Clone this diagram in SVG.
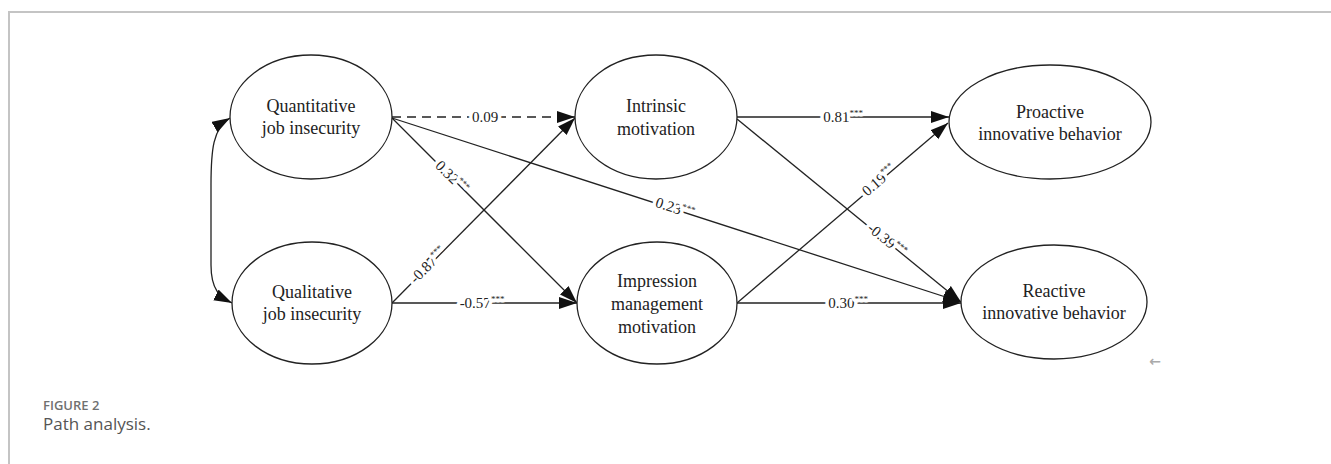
<svg xmlns="http://www.w3.org/2000/svg" width="1331" height="464" viewBox="0 0 1331 464">
<style>
.node ellipse{fill:#fff;stroke:#222;stroke-width:1.3}
.nl{font-family:"Liberation Serif","Times New Roman",serif;font-size:18px;fill:#222;text-anchor:middle}
.edge{stroke:#222;stroke-width:1.3;fill:none}
.el{font-family:"Liberation Serif","Times New Roman",serif;font-size:15px;fill:#222;text-anchor:middle;stroke:#fff;stroke-width:7px;paint-order:stroke;stroke-linejoin:round}
.sup{font-size:9px}
.cap1{font-family:"Open Sans","Noto Sans",sans-serif;font-size:13px;font-weight:600;fill:#707070}
.cap2{font-family:"Open Sans","Noto Sans",sans-serif;font-size:17px;fill:#555}
</style>
<defs>
<marker id="ah" markerUnits="userSpaceOnUse" markerWidth="20" markerHeight="14" refX="18" refY="6" orient="auto-start-reverse">
<path d="M0,0 L18,6 L0,12 z" fill="#111"/>
</marker>
</defs>
<rect width="1331" height="464" fill="#fff"/>
<path d="M9,464 L9,12 L1331,12" fill="none" stroke="#c4c4c4" stroke-width="2"/>

<g id="connectors">
<path class="edge" d="M230,118 C213,128 211,150 211,185 L211,265 C211,290 220,297 232,303" marker-start="url(#ah)" marker-end="url(#ah)"/>
<line class="edge" x1="392" y1="117" x2="575" y2="117" stroke-dasharray="9,6" marker-end="url(#ah)"/>
<line class="edge" x1="392" y1="118" x2="577" y2="303" marker-end="url(#ah)"/>
<line class="edge" x1="392" y1="118" x2="961" y2="302" marker-end="url(#ah)"/>
<line class="edge" x1="392" y1="303" x2="575" y2="118" marker-end="url(#ah)"/>
<line class="edge" x1="392" y1="303" x2="577" y2="303" marker-end="url(#ah)"/>
<line class="edge" x1="737" y1="117" x2="949" y2="117" marker-end="url(#ah)"/>
<line class="edge" x1="737" y1="119" x2="961" y2="302" marker-end="url(#ah)"/>
<line class="edge" x1="737" y1="303" x2="948" y2="123" marker-end="url(#ah)"/>
<line class="edge" x1="737" y1="303" x2="961" y2="303" marker-end="url(#ah)"/>
<text class="el" x="485" y="122">0.09</text>
<text class="el" transform="translate(452,177) rotate(45)" y="5">0.32<tspan class="sup" dy="-6">***</tspan></text>
<text class="el" transform="translate(675,208) rotate(18)" y="5">0.23<tspan class="sup" dy="-6">***</tspan></text>
<text class="el" transform="translate(428,265) rotate(-45)" y="5">-0.87<tspan class="sup" dy="-6">***</tspan></text>
<text class="el" x="482" y="308">-0.57<tspan class="sup" dy="-6">***</tspan></text>
<text class="el" x="843" y="122">0.81<tspan class="sup" dy="-6">***</tspan></text>
<text class="el" transform="translate(879,180) rotate(-40.6)" y="5">0.19<tspan class="sup" dy="-6">***</tspan></text>
<text class="el" transform="translate(887,240) rotate(39)" y="5">-0.39<tspan class="sup" dy="-6">***</tspan></text>
<text class="el" x="848" y="308">0.30<tspan class="sup" dy="-6">***</tspan></text>
</g>

<g id="quantitative" class="node">
<ellipse cx="311" cy="117" rx="81" ry="62"/>
<text class="nl" x="311" y="112">Quantitative</text>
<text class="nl" x="311" y="134">job insecurity</text>
</g>
<g id="qualitative" class="node">
<ellipse cx="312" cy="303" rx="80" ry="61"/>
<text class="nl" x="312" y="298">Qualitative</text>
<text class="nl" x="312" y="320">job insecurity</text>
</g>
<g id="intrinsic" class="node">
<ellipse cx="656" cy="117" rx="81" ry="62"/>
<text class="nl" x="656" y="112">Intrinsic</text>
<text class="nl" x="656" y="135">motivation</text>
</g>
<g id="impression" class="node">
<ellipse cx="657" cy="303" rx="80" ry="61"/>
<text class="nl" x="657" y="287">Impression</text>
<text class="nl" x="657" y="310">management</text>
<text class="nl" x="657" y="333">motivation</text>
</g>
<g id="proactive" class="node">
<ellipse cx="1050" cy="122" rx="101" ry="57"/>
<text class="nl" x="1050" y="118">Proactive</text>
<text class="nl" x="1050" y="140">innovative behavior</text>
</g>
<g id="reactive" class="node">
<ellipse cx="1054" cy="302" rx="93" ry="57"/>
<text class="nl" x="1054" y="297">Reactive</text>
<text class="nl" x="1054" y="319">innovative behavior</text>
</g>

<text x="1155" y="366" font-family="DejaVu Sans,sans-serif" font-size="14" font-weight="bold" fill="#aaa" text-anchor="middle">←</text>
<text class="cap1" x="43" y="410">FIGURE 2</text>
<text class="cap2" x="43" y="430">Path analysis.</text>
</svg>
